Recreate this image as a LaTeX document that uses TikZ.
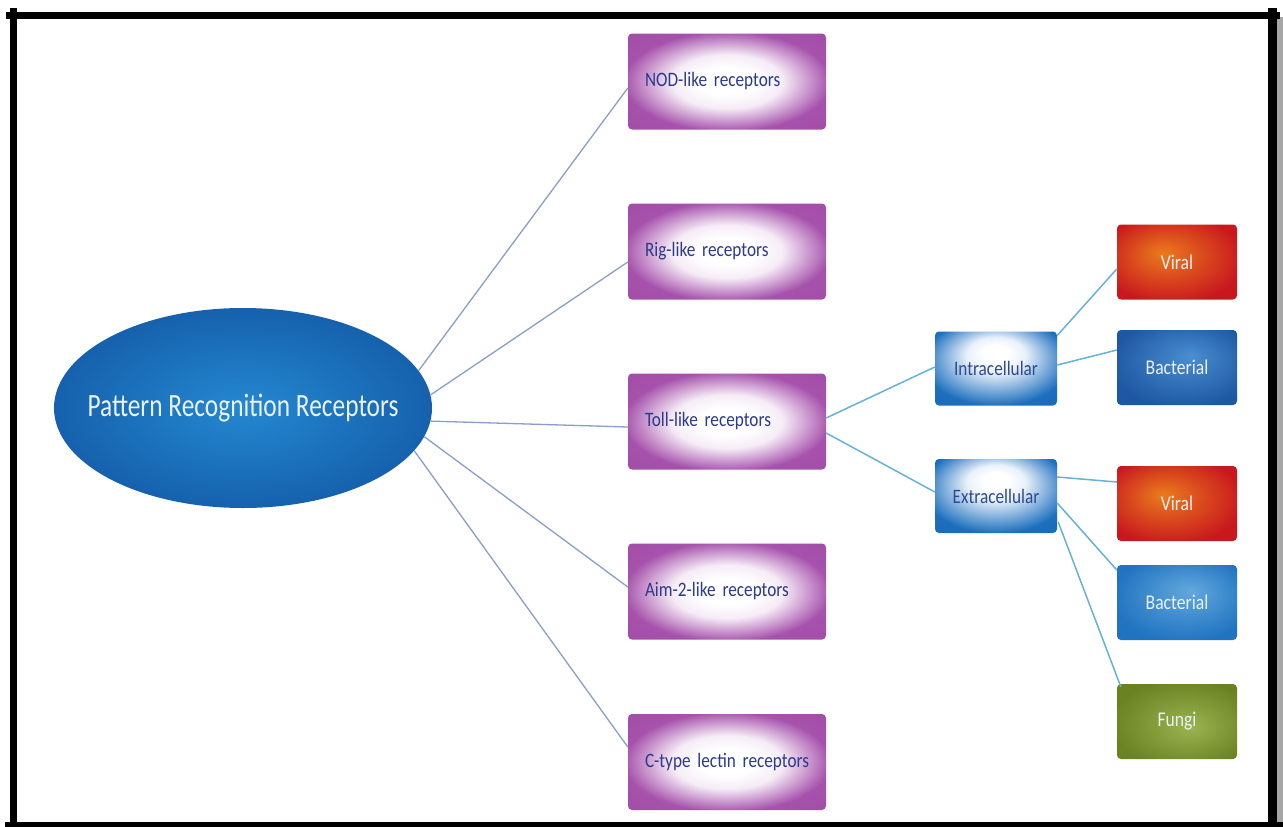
\documentclass[tikz,border=0pt]{standalone}
\usepackage{fontspec}
\setmainfont{Carlito}
\newfontfamily\prrfont[FakeStretch=0.78]{Carlito}
\newfontfamily\boxfont[FakeStretch=0.84]{Carlito}
\newcommand\prrstyle{\prrfont\fontsize{32.5}{38}\selectfont\spaceskip=0.18em\relax}
\newcommand\recstyle{\boxfont\fontsize{20.5}{24}\selectfont\spaceskip=0.15em\relax}
\usetikzlibrary{shapes.geometric}

\definecolor{pboxc}{HTML}{A652AC}
\definecolor{pboxd}{HTML}{9C479F}
\definecolor{pboxm}{HTML}{F6ECF7}
\definecolor{iblue}{HTML}{1C6FBE}
\definecolor{iblued}{HTML}{1864AE}
\definecolor{ibluem}{HTML}{E8F1FA}
\definecolor{ellc}{HTML}{2488D0}
\definecolor{elle}{HTML}{1661AD}
\definecolor{orangec}{HTML}{EC7B1C}
\definecolor{rede}{HTML}{C8181E}
\definecolor{bactc}{HTML}{4A8ED0}
\definecolor{bacte}{HTML}{1E58A4}
\definecolor{bactbc}{HTML}{62A8DC}
\definecolor{bactbe}{HTML}{2073C1}
\definecolor{fungc}{HTML}{9BB452}
\definecolor{funge}{HTML}{6A8221}
\definecolor{navytext}{HTML}{2B3A8C}
\definecolor{bluetext}{HTML}{2F4A8E}
\definecolor{whitetext}{HTML}{EAF1F8}
\definecolor{lineleft}{HTML}{8A9ECB}
\definecolor{lineright}{HTML}{66B2D8}

\pgfdeclareradialshading{purpleglow}{\pgfpoint{0bp}{0bp}}{color(0bp)=(white); color(7bp)=(white); color(14bp)=(pboxm); color(26bp)=(pboxc); color(50bp)=(pboxd)}
\pgfdeclareradialshading{blueglow}{\pgfpoint{0bp}{12bp}}{color(0bp)=(white); color(5bp)=(white); color(12bp)=(ibluem); color(30bp)=(iblue); color(50bp)=(iblued)}
\pgfdeclareradialshading{ellglow}{\pgfpoint{0bp}{0bp}}{color(0bp)=(ellc); color(25bp)=(elle); color(50bp)=(elle)}
\pgfdeclareradialshading{viralglow}{\pgfpoint{-6bp}{6bp}}{color(0bp)=(orangec); color(30bp)=(rede); color(50bp)=(rede)}
\pgfdeclareradialshading{bactglow}{\pgfpoint{6bp}{8bp}}{color(0bp)=(bactc); color(30bp)=(bacte); color(50bp)=(bacte)}
\pgfdeclareradialshading{bactbglow}{\pgfpoint{6bp}{8bp}}{color(0bp)=(bactbc); color(30bp)=(bactbe); color(50bp)=(bactbe)}
\pgfdeclareradialshading{fungglow}{\pgfpoint{6bp}{-4bp}}{color(0bp)=(fungc); color(30bp)=(funge); color(50bp)=(funge)}

\tikzset{
  prrbox/.style={ellipse, shading=ellglow, minimum width=378pt, minimum height=200pt, inner sep=0pt,
    text=whitetext, font=\prrstyle},
  receptor/.style={rectangle, rounded corners=4pt, shading=purpleglow, minimum width=198pt,
    minimum height=96pt, inner xsep=17pt, inner ysep=0pt, text width=164pt, align=left,
    text=navytext, font=\recstyle},
  location/.style={rectangle, rounded corners=4pt, shading=blueglow, minimum width=122pt,
    minimum height=74pt, inner sep=0pt, text=bluetext, font=\boxfont\fontsize{20.5}{24}\selectfont},
  target/.style={rectangle, rounded corners=4pt, minimum width=120pt, minimum height=75pt,
    inner sep=0pt, text=whitetext, font=\boxfont\fontsize{21}{24}\selectfont},
  leftlink/.style={draw=lineleft, line width=1.3pt},
  rightlink/.style={draw=lineright, line width=1.5pt},
  framebar/.style={draw=black}
}

\begin{document}
\begin{tikzpicture}[x=1pt,y=-1pt]
\fill[white] (0,0) rectangle (1283,827);
\useasboundingbox (0,0) rectangle (1283,827);

% frame
\fill[black!35] (1277,17) rectangle (1283,822);
\draw[framebar, line width=7pt] (13.5,8) -- (13.5,827);
\draw[framebar, line width=6.6pt] (6,15.2) -- (1280,15.2);
\draw[framebar, line width=9pt] (1272.5,8) -- (1272.5,827);
\draw[framebar, line width=5pt] (5,824.5) -- (1283,824.5);

% nodes
\node[prrbox] (prr) at (243,408) {\makebox[0pt]{Pattern Recognition Receptors}};

\node[receptor] (nod) at (727,81.5) {\mbox{NOD-like receptors}};
\node[receptor] (rig) at (727,251.5) {\mbox{Rig-like receptors}};
\node[receptor] (toll) at (727,421.5) {\mbox{Toll-like receptors}};
\node[receptor] (aim) at (727,591.5) {\mbox{Aim-2-like receptors}};
\node[receptor] (ctype) at (727,762) {\mbox{C-type lectin receptors}};

\node[location] (intra) at (996,368.5) {Intracellular};
\node[location] (extra) at (996,496) {Extracellular};

\node[target, shading=viralglow] (viral1) at (1177,262) {Viral};
\node[target, shading=bactglow] (bact1) at (1177,367.5) {Bacterial};
\node[target, shading=viralglow] (viral2) at (1177,503.5) {Viral};
\node[target, shading=bactbglow] (bact2) at (1177,602.5) {Bacterial};
\node[target, shading=fungglow] (fungi) at (1177,721.5) {Fungi};

% connectors
\draw[leftlink] (prr.12) -- ([yshift=-6.5pt]nod.west);
\draw[leftlink] (prr.4.6) -- ([yshift=-10.5pt]rig.west);
\draw[leftlink] (prr.-4.5) -- ([yshift=-5.5pt]toll.west);
\draw[leftlink] (prr.-9.9) -- ([yshift=4.5pt]aim.west);
\draw[leftlink] (prr.-14.5) -- ([yshift=15pt]ctype.west);

\draw[rightlink] ([yshift=3.5pt]toll.east) -- ([yshift=1.5pt]intra.west);
\draw[rightlink] ([yshift=-11.5pt]toll.east) -- ([yshift=4pt]extra.west);

\draw[rightlink] ([yshift=33pt]intra.east) -- ([yshift=-7pt]viral1.west);
\draw[rightlink] ([yshift=3.5pt]intra.east) -- ([yshift=17.5pt]bact1.west);

\draw[rightlink] ([yshift=19pt]extra.east) -- ([yshift=21.5pt]viral2.west);
\draw[rightlink] ([yshift=-7pt]extra.east) -- ([yshift=32.5pt]bact2.west);
\draw[rightlink] ([xshift=1pt,yshift=-26pt]extra.east) -- ([xshift=4pt,yshift=-3pt]fungi.north west);
\end{tikzpicture}
\end{document}
